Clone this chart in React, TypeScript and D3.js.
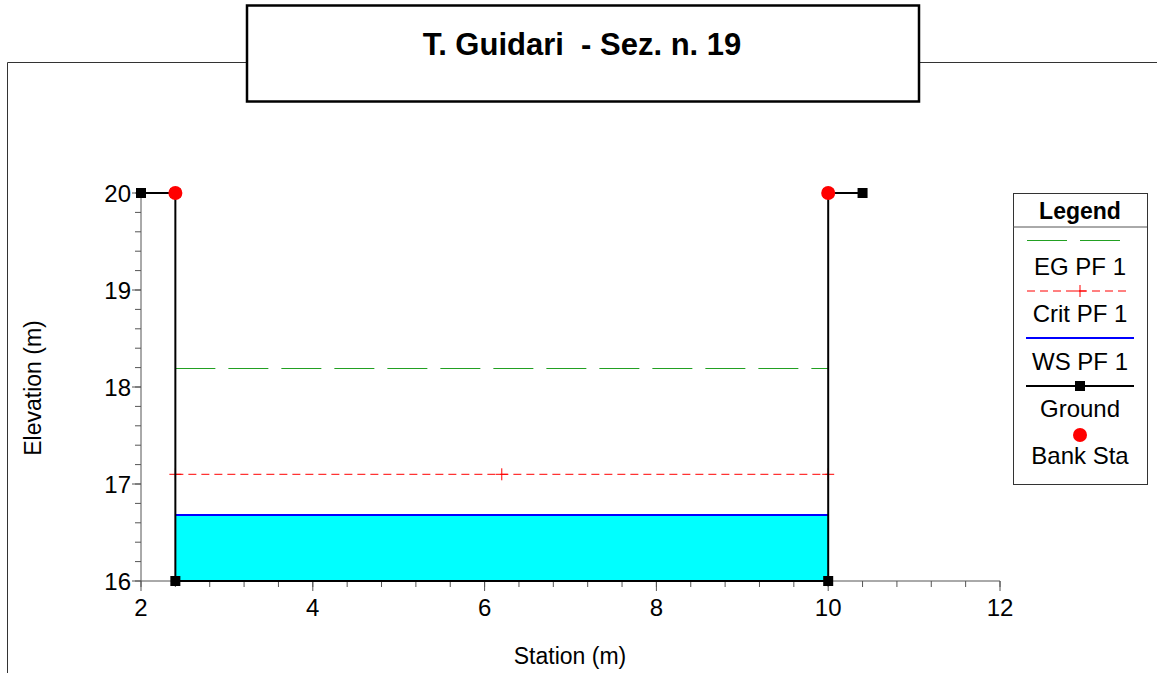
import React from "react";
import * as d3 from "d3";

// cross section data
const groundStation = [2, 2.4, 2.4, 10, 10, 10.4];
const groundElev = [20, 20, 16, 16, 20, 20];
const bankStation = [2.4, 10];
const bankElev = [20, 20];
const wsStation = [2.4, 10];
const wsElev = 16.68;
const critStation = [2.4, 6.2, 10];
const critElev = 17.1;
const egStation = [2.4, 10];
const egElev = 18.2;

const xTicks = [2, 4, 6, 8, 10, 12];
const yTicks = [16, 17, 18, 19, 20];
const legendLabels = ["EG PF 1", "Crit PF 1", "WS PF 1", "Ground", "Bank Sta"];

const W = 1157;
const H = 673;
const FONT = "'Liberation Sans', Arial, sans-serif";

export default function App() {
    const x = d3.scaleLinear().domain([2, 12]).range([141, 1000]);
    const y = d3.scaleLinear().domain([16, 20]).range([581, 193]);

    const ground = groundStation.map((s, i) => ({ s, e: groundElev[i] }));
    const groundLine = d3
        .line<{ s: number; e: number }>()
        .x((d) => x(d.s))
        .y((d) => y(d.e));

    const waterArea = d3
        .area<number>()
        .x((d) => x(d))
        .y0(y(16))
        .y1(y(wsElev));

    const xMinor = d3.range(0, 26).map((i) => 2 + i * 0.4);
    const yMinor = d3.range(0, 21).map((i) => 16 + i * 0.2);

    const axisColor = "#555";
    const egColor = "#22a022";

    // legend geometry
    const lgX = 1013;
    const lgW = 134;
    const lgCx = lgX + lgW / 2;
    const lineYs = [240, 291, 338, 386, 435];
    const textYs = [275, 322, 370, 417, 464];

    return (
        <svg
            width={W}
            height={H}
            style={{ position: "absolute", left: 0, top: 0, background: "#fff" }}
            fontFamily={FONT}
        >
            {/* outer frame */}
            <path d={`M7.5,${H} V62.5 H${W}`} fill="none" stroke="#333" strokeWidth={1} />

            {/* title box */}
            <rect x={247} y={5.5} width={672} height={96} fill="#fff" stroke="#000" strokeWidth={2.5} />
            <text
                x={582}
                y={55}
                textAnchor="middle"
                fontSize={31}
                fontWeight="bold"
                style={{ whiteSpace: "pre" }}
            >
                T. Guidari  - Sez. n. 19
            </text>

            {/* water */}
            <path d={waterArea(wsStation) || ""} fill="#00ffff" />

            {/* axes */}
            <line x1={x(2)} x2={x(12)} y1={y(16)} y2={y(16)} stroke={axisColor} />
            <line x1={x(2)} x2={x(2)} y1={y(16)} y2={y(20)} stroke={axisColor} />
            {xMinor.map((t, i) => (
                <line key={"xm" + i} x1={x(t)} x2={x(t)} y1={y(16)} y2={y(16) + 6} stroke={axisColor} />
            ))}
            {xTicks.map((t) => (
                <g key={"xt" + t}>
                    <line x1={x(t)} x2={x(t)} y1={y(16)} y2={y(16) + 10} stroke={axisColor} />
                    <text x={x(t)} y={616} textAnchor="middle" fontSize={24}>
                        {t}
                    </text>
                </g>
            ))}
            {yMinor.map((t, i) => (
                <line key={"ym" + i} x1={x(2) - 6} x2={x(2)} y1={y(t)} y2={y(t)} stroke={axisColor} />
            ))}
            {yTicks.map((t) => (
                <g key={"yt" + t}>
                    <line x1={x(2) - 9} x2={x(2)} y1={y(t)} y2={y(t)} stroke={axisColor} />
                    <text x={x(2) - 10} y={y(t) + 9} textAnchor="end" fontSize={24}>
                        {t}
                    </text>
                </g>
            ))}
            <text x={570} y={664} textAnchor="middle" fontSize={23}>
                Station (m)
            </text>
            <text
                transform={`translate(41,388) rotate(-90)`}
                textAnchor="middle"
                fontSize={23}
            >
                Elevation (m)
            </text>

            {/* EG */}
            <line
                x1={x(egStation[0])}
                x2={x(egStation[1])}
                y1={Math.round(y(egElev)) + 0.5}
                y2={Math.round(y(egElev)) + 0.5}
                stroke={egColor}
                strokeWidth={1}
                strokeDasharray="40 13"
            />

            {/* critical */}
            <line
                x1={x(critStation[0])}
                x2={x(critStation[critStation.length - 1])}
                y1={y(critElev)}
                y2={y(critElev)}
                stroke="#ff0000"
                strokeWidth={1}
                strokeDasharray="8 5"
            />
            {critStation.map((s, i) => (
                <path
                    key={"cr" + i}
                    d={`M${x(s) - 6},${y(critElev)} h12 M${x(s)},${y(critElev) - 6} v12`}
                    stroke="#ff0000"
                    strokeWidth={1}
                />
            ))}

            {/* water surface */}
            <line
                x1={x(wsStation[0])}
                x2={x(wsStation[1])}
                y1={y(wsElev)}
                y2={y(wsElev)}
                stroke="#0000ff"
                strokeWidth={2}
            />

            {/* ground */}
            <path d={groundLine(ground) || ""} fill="none" stroke="#000" strokeWidth={2} />
            {ground.map((d, i) => (
                <rect key={"g" + i} x={x(d.s) - 5} y={y(d.e) - 5} width={10} height={10} fill="#000" />
            ))}

            {/* bank stations */}
            {bankStation.map((s, i) => (
                <circle key={"b" + i} cx={x(s)} cy={y(bankElev[i])} r={7} fill="#ff0000" />
            ))}

            {/* legend */}
            <rect x={lgX + 0.5} y={193.5} width={lgW} height={291} fill="#fff" stroke="#333" strokeWidth={1} />
            <line x1={lgX} x2={lgX + lgW} y1={227} y2={227} stroke="#555" />
            <text x={lgCx} y={219} textAnchor="middle" fontSize={23} fontWeight="bold">
                Legend
            </text>
            <line x1={1027} x2={1120} y1={lineYs[0] + 0.5} y2={lineYs[0] + 0.5} stroke={egColor} strokeDasharray="40 13" />
            <line x1={1027} x2={1127} y1={lineYs[1]} y2={lineYs[1]} stroke="#ff0000" strokeDasharray="8 5" />
            <path d={`M${lgCx - 6},${lineYs[1]} h12 M${lgCx},${lineYs[1] - 6} v12`} stroke="#ff0000" />
            <line x1={1026} x2={1134} y1={lineYs[2]} y2={lineYs[2]} stroke="#0000ff" strokeWidth={2} />
            <line x1={1026} x2={1134} y1={lineYs[3]} y2={lineYs[3]} stroke="#000" strokeWidth={2} />
            <rect x={lgCx - 5} y={lineYs[3] - 5} width={10} height={10} fill="#000" />
            <circle cx={lgCx} cy={lineYs[4]} r={7} fill="#ff0000" />
            {legendLabels.map((l, i) => (
                <text key={l} x={lgCx} y={textYs[i]} textAnchor="middle" fontSize={24}>
                    {l}
                </text>
            ))}
        </svg>
    );
}
